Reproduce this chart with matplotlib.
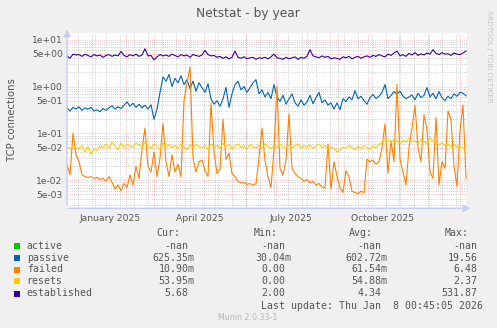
import numpy as np
import matplotlib
matplotlib.use("Agg")
import matplotlib.pyplot as plt
import matplotlib.dates as mdates
from matplotlib.patches import Rectangle, FancyArrowPatch
from datetime import datetime, timedelta

start = datetime(2024, 12, 4, 0, 45, 5)
end = datetime(2026, 1, 8, 0, 45, 5)
day_offsets = list(range(0, 400, 3))

passive = [
    0.35, 0.30, 0.36, 0.33, 0.37, 0.31, 0.35, 0.33, 0.36, 0.30, 0.32, 0.29, 0.34, 0.31, 0.35,
    0.39, 0.33, 0.37, 0.34, 0.40, 0.47, 0.38, 0.44, 0.36, 0.42, 0.35, 0.40, 0.33, 0.41, 0.20,
    0.33, 0.75, 1.6, 1.3, 1.8, 1.0, 1.5, 1.2, 1.7, 1.1, 1.4, 0.9, 1.3, 0.8, 1.2,
    0.95, 0.75, 1.15, 0.55, 0.42, 0.50, 0.38, 0.55, 0.95, 0.36, 0.70, 1.1, 1.3, 0.85, 1.0,
    0.75, 0.95, 1.2, 1.4, 0.70, 0.85, 0.60, 0.75, 0.55, 1.1, 0.60, 0.48, 0.65, 0.42, 0.55,
    0.70, 0.45, 0.38, 0.52, 0.40, 0.47, 0.65, 0.43, 0.58, 0.75, 0.45, 0.52, 0.40, 0.45, 0.33,
    0.45, 0.32, 0.55, 0.48, 0.60, 0.52, 0.82, 0.55, 0.62, 0.50, 0.42, 0.58, 0.68, 0.55, 0.62,
    0.75, 1.1, 0.55, 0.65, 0.78, 0.68, 0.80, 0.62, 0.55, 0.60, 0.66, 0.52, 0.72, 0.58, 0.65,
    0.95, 0.60, 0.72, 0.55, 0.78, 0.58, 0.50, 0.62, 0.55, 0.70, 0.62, 0.75, 0.72, 0.63,
]

failed = [
    0.022, 0.013, 0.10, 0.035, 0.025, 0.013, 0.012, 0.0115, 0.012, 0.011, 0.0115, 0.0105, 0.011, 0.0095, 0.012,
    0.009, 0.0065, 0.008, 0.006, 0.0085, 0.007, 0.013, 0.008, 0.020, 0.011, 0.045, 0.13, 0.020, 0.015, 0.040,
    0.012, 0.030, 0.16, 0.025, 0.012, 0.035, 0.015, 0.022, 0.012, 0.5, 1.2, 2.6, 0.03, 0.015, 0.025,
    0.027, 0.016, 0.012, 0.45, 0.04, 0.014, 0.017, 0.20, 0.028, 0.038, 0.014, 0.012, 0.0095, 0.0088, 0.009,
    0.0082, 0.0085, 0.0078, 0.0085, 0.03, 0.13, 0.027, 0.012, 0.007, 0.045, 1.0, 0.018, 0.013, 0.027, 0.26,
    0.018, 0.014, 0.012, 0.011, 0.0095, 0.0105, 0.0088, 0.0095, 0.008, 0.0085, 0.0072, 0.0068, 0.06, 0.0065, 0.025,
    0.012, 0.007, 0.0055, 0.016, 0.012, 0.0058, 0.0055, 0.0052, 0.0058, 0.0055, 0.028, 0.025, 0.027, 0.022, 0.025,
    0.05, 0.16, 0.014, 0.07, 0.025, 1.1, 0.028, 0.015, 0.008, 0.05, 0.13, 0.40, 0.05, 0.025, 0.25,
    0.12, 0.015, 0.011, 0.22, 0.008, 0.025, 0.018, 0.3, 0.2, 0.02, 0.0075, 0.12, 0.4, 0.011,
]

resets = [
    0.050, 0.048, 0.053, 0.050, 0.047, 0.055, 0.040, 0.052, 0.036, 0.047, 0.043, 0.055, 0.050, 0.060, 0.048,
    0.065, 0.053, 0.045, 0.062, 0.050, 0.058, 0.055, 0.050, 0.062, 0.056, 0.052, 0.065, 0.055, 0.048, 0.060,
    0.054, 0.045, 0.062, 0.052, 0.058, 0.050, 0.055, 0.048, 0.060, 0.052, 0.045, 0.057, 0.050, 0.058, 0.052,
    0.050, 0.055, 0.045, 0.060, 0.050, 0.056, 0.048, 0.062, 0.052, 0.058, 0.047, 0.055, 0.060, 0.050, 0.054,
    0.046, 0.058, 0.052, 0.049, 0.056, 0.050, 0.060, 0.053, 0.047, 0.055, 0.050, 0.058, 0.052, 0.048, 0.056,
    0.050, 0.054, 0.060, 0.049, 0.055, 0.051, 0.057, 0.048, 0.054, 0.060, 0.050, 0.055, 0.045, 0.052, 0.048,
    0.040, 0.045, 0.052, 0.048, 0.055, 0.050, 0.045, 0.053, 0.048, 0.056, 0.050, 0.047, 0.054, 0.050, 0.058,
    0.065, 0.080, 0.070, 0.062, 0.075, 0.068, 0.060, 0.072, 0.065, 0.078, 0.066, 0.070, 0.060, 0.075, 0.068,
    0.062, 0.080, 0.070, 0.065, 0.058, 0.063, 0.055, 0.060, 0.052, 0.058, 0.050, 0.055, 0.048, 0.054,
]

established = [
    4.5, 4.0, 4.9, 4.7, 4.8, 4.4, 4.9, 4.6, 4.3, 4.8, 4.5, 4.7, 4.2, 4.6, 4.8,
    4.4, 4.7, 4.5, 5.6, 4.6, 4.3, 4.8, 4.5, 4.9, 4.4, 4.7, 6.4, 4.5, 4.6, 3.7,
    4.3, 4.8, 4.5, 4.7, 4.4, 4.9, 4.6, 4.3, 4.8, 4.5, 4.7, 4.2, 4.8, 4.6, 4.4,
    4.7, 5.9, 4.8, 4.5, 4.6, 4.2, 4.4, 4.0, 4.3, 3.9, 4.2, 5.7, 4.2, 4.0, 4.3,
    3.9, 4.1, 4.2, 3.8, 4.1, 4.0, 4.2, 3.9, 4.3, 4.9, 4.1, 4.0, 3.8, 4.2, 3.9,
    4.1, 4.3, 3.8, 4.2, 4.0, 4.4, 6.1, 4.5, 4.3, 4.1, 4.5, 4.2, 4.4, 3.9, 4.1,
    4.0, 3.8, 4.3, 4.1, 4.4, 3.9, 4.2, 4.4, 4.0, 4.3, 4.5, 4.2, 4.6, 4.4, 4.8,
    4.5, 4.3, 4.9, 4.6, 5.2, 5.7, 4.5, 4.8, 4.4, 5.1, 4.7, 5.3, 4.6, 5.0, 4.7,
    5.2, 4.9, 6.1, 5.1, 4.8, 5.3, 4.9, 5.0, 4.6, 5.2, 4.9, 4.8, 5.2, 5.7,
]

series_names = ["active", "passive", "failed", "resets", "established"]
series_colors = ["#00CC00", "#0066B3", "#FF8000", "#FFCC00", "#330099"]
cur_vals = ["-nan", "625.35m", "10.90m", "53.95m", "5.68"]
min_vals = ["-nan", "30.04m", "0.00", "0.00", "2.00"]
avg_vals = ["-nan", "602.72m", "61.54m", "54.88m", "4.34"]
max_vals = ["-nan", "19.56", "6.48", "2.37", "531.87"]

ytick_vals = [5e-3, 1e-2, 5e-2, 1e-1, 5e-1, 1, 5, 10]
ytick_labels = ["5e-03", "1e-02", "5e-02", "1e-01", "5e-01", "1e+00", "5e+00", "1e+01"]
xtick_labels = ["January 2025", "April 2025", "July 2025", "October 2025"]
xtick_months = [(2025, 1), (2025, 4), (2025, 7), (2025, 10)]

# ---------------- figure ----------------
W, H = 497, 328
TEXT = "#555555"
fig = plt.figure(figsize=(W / 100, H / 100), dpi=100, facecolor="#F0F0F0")

def fx(x):
    return x / W

def fy(y):
    return 1 - y / H

left, right, top, bottom = 67, 467, 32.5, 208.3
ax = fig.add_axes([fx(left), fy(bottom), (right - left) / W, (bottom - top) / H])
ax.set_facecolor("white")
for s in ax.spines.values():
    s.set_visible(False)

ax.set_yscale("log")
ax.set_ylim(2.53e-3, 14.2)
ax.set_xlim(start, end)

# grid
for e in range(-3, 2):
    for k in range(1, 10):
        v = k * 10.0 ** e
        if 2.53e-3 < v < 14.2:
            if k in (1, 5):
                ax.axhline(v, color=(1, 0, 0, 0.35), lw=0.6, ls=(0, (1, 1.6)), zorder=1)
            else:
                ax.axhline(v, color=(0.55, 0.55, 0.55, 0.55), lw=0.6, ls=(0, (1, 1.6)), zorder=1)

d = datetime(2024, 12, 15)
while d < end:
    ax.axvline(d, color=(0.55, 0.55, 0.55, 0.55), lw=0.6, ls=(0, (1, 1.6)), zorder=1)
    d += timedelta(days=14)
for y_, m_ in [(2025, m) for m in range(1, 13)] + [(2026, 1)]:
    ax.axvline(datetime(y_, m_, 1), color=(1, 0, 0, 0.35), lw=0.6, ls=(0, (1, 1.6)), zorder=1)

dates = [start + timedelta(days=o) for o in day_offsets]
lw = 0.8
ax.plot(dates, passive, color=series_colors[1], lw=lw, zorder=3)
ax.plot(dates, failed, color=series_colors[2], lw=lw, zorder=4)
ax.plot(dates, resets, color=series_colors[3], lw=lw, zorder=5)
ax.plot(dates, established, color=series_colors[4], lw=lw, zorder=6)

ax.set_yticks(ytick_vals)
ax.set_yticklabels(ytick_labels)
ax.yaxis.set_minor_locator(matplotlib.ticker.NullLocator())
ax.set_xticks([datetime(y_, m_, 16) for y_, m_ in xtick_months])
ax.set_xticklabels(xtick_labels)
ax.tick_params(axis="both", length=0, labelsize=6.6, colors=TEXT)
ax.tick_params(axis="x", pad=4)
ax.tick_params(axis="y", pad=3)

fig.text(fx(12.5), fy(120), "TCP connections", rotation=90, ha="center", va="center",
         fontsize=7.3, color=TEXT)

# axis lines with arrows
axis_col = "#C4CCF4"
fig.add_artist(FancyArrowPatch((left, H - bottom), (left, H - 27), transform=None,
                               arrowstyle="-|>,head_length=4,head_width=2.2", color=axis_col,
                               lw=1, mutation_scale=1))
fig.add_artist(FancyArrowPatch((left - 2, H - bottom), (473, H - bottom), transform=None,
                               arrowstyle="-|>,head_length=4,head_width=2.2", color=axis_col,
                               lw=1, mutation_scale=1))

# title
fig.text(fx(248), fy(14), "Netstat - by year", ha="center", va="center", fontsize=8.8, color=TEXT)
fig.text(fx(488.5), fy(56), "RRDTOOL / TOBI OETIKER", rotation=270, ha="center", va="center",
         fontsize=5.2, color="#C4C4C4")

# legend
mono = "DejaVu Sans Mono"
fs = 7.1
cw = 5.94
hy = 233.3
for txt, xr in zip(["Cur:", "Min:", "Avg:", "Max:"], [180, 277.7, 373, 469]):
    fig.text(fx(xr), fy(hy), txt, ha="right", va="center", fontsize=fs, family=mono, color=TEXT)

row_y = [245.7, 257.7, 269.5, 281.3, 293.5]
col_edges = [194.3, 291, 387.3, 483.3]
for i, name in enumerate(series_names):
    y = row_y[i]
    fig.add_artist(Rectangle((14, H - y - 3), 6, 6, transform=None,
                             facecolor=series_colors[i], edgecolor="none"))
    fig.text(fx(26.7), fy(y), name, ha="left", va="center", fontsize=fs, family=mono, color=TEXT)
    for vals, xr in zip([cur_vals, min_vals, avg_vals, max_vals], col_edges):
        v = vals[i]
        xe = xr if v.endswith("m") else xr - cw
        fig.text(fx(xe), fy(y), v, ha="right", va="center", fontsize=fs, family=mono, color=TEXT)

fig.text(fx(483.3), fy(305.7), "Last update: Thu Jan  8 00:45:05 2026", ha="right", va="center",
         fontsize=fs, family=mono, color=TEXT)
fig.text(fx(248), fy(317), "Munin 2.0.33-1", ha="center", va="center", fontsize=5.7, color="#B8B8B8")

fig.savefig("out.png", dpi=100, facecolor=fig.get_facecolor())
